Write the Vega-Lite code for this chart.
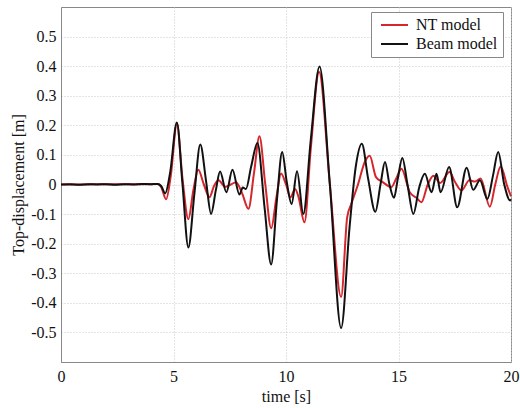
{
  "$schema": "https://vega.github.io/schema/vega-lite/v6.json",
  "width": 450,
  "height": 355,
  "autosize": {"type": "none"},
  "padding": {"left": 61, "top": 7, "right": 9, "bottom": 46},
  "background": "white",
  "config": {
    "view": {"stroke": "#888888", "strokeWidth": 1},
    "font": "Liberation Serif",
    "axis": {"labelFont": "Liberation Serif", "titleFont": "Liberation Serif"},
    "legend": {"labelFont": "Liberation Serif"}
  },
  "data": {
    "values": [
      {"s": "NT model", "t": 0, "v": 0}, {"s": "NT model", "t": 1, "v": 0}, {"s": "NT model", "t": 2, "v": 0.001}, {"s": "NT model", "t": 3, "v": 0.001}, {"s": "NT model", "t": 4, "v": 0.001}, {"s": "NT model", "t": 4.3, "v": 0.002},
      {"s": "NT model", "t": 4.45, "v": -0.008}, {"s": "NT model", "t": 4.67, "v": -0.05}, {"s": "NT model", "t": 4.88, "v": 0.03}, {"s": "NT model", "t": 5.15, "v": 0.205}, {"s": "NT model", "t": 5.4, "v": 0.02}, {"s": "NT model", "t": 5.66, "v": -0.117}, {"s": "NT model", "t": 5.88, "v": -0.02}, {"s": "NT model", "t": 6.1, "v": 0.05}, {"s": "NT model", "t": 6.35, "v": 0.0}, {"s": "NT model", "t": 6.6, "v": -0.043}, {"s": "NT model", "t": 6.8, "v": -0.005}, {"s": "NT model", "t": 7.0, "v": 0.014}, {"s": "NT model", "t": 7.3, "v": -0.008}, {"s": "NT model", "t": 7.55, "v": 0.0}, {"s": "NT model", "t": 7.78, "v": 0.008}, {"s": "NT model", "t": 8.05, "v": -0.03}, {"s": "NT model", "t": 8.33, "v": -0.082}, {"s": "NT model", "t": 8.58, "v": 0.04}, {"s": "NT model", "t": 8.82, "v": 0.163}, {"s": "NT model", "t": 9.08, "v": 0.0}, {"s": "NT model", "t": 9.34, "v": -0.148}, {"s": "NT model", "t": 9.58, "v": -0.04}, {"s": "NT model", "t": 9.78, "v": 0.037}, {"s": "NT model", "t": 10.0, "v": 0.0}, {"s": "NT model", "t": 10.2, "v": -0.043}, {"s": "NT model", "t": 10.4, "v": -0.015}, {"s": "NT model", "t": 10.55, "v": -0.04}, {"s": "NT model", "t": 10.82, "v": -0.128}, {"s": "NT model", "t": 11.1, "v": 0.12}, {"s": "NT model", "t": 11.47, "v": 0.38}, {"s": "NT model", "t": 11.95, "v": 0.0}, {"s": "NT model", "t": 12.45, "v": -0.38}, {"s": "NT model", "t": 12.72, "v": -0.11}, {"s": "NT model", "t": 12.9, "v": -0.066}, {"s": "NT model", "t": 13.2, "v": 0.0}, {"s": "NT model", "t": 13.5, "v": 0.076}, {"s": "NT model", "t": 13.72, "v": 0.097}, {"s": "NT model", "t": 14.0, "v": 0.025}, {"s": "NT model", "t": 14.3, "v": 0.008}, {"s": "NT model", "t": 14.68, "v": -0.009}, {"s": "NT model", "t": 14.9, "v": 0.02}, {"s": "NT model", "t": 15.13, "v": 0.053}, {"s": "NT model", "t": 15.5, "v": -0.026}, {"s": "NT model", "t": 15.8, "v": -0.045}, {"s": "NT model", "t": 16.02, "v": -0.06}, {"s": "NT model", "t": 16.3, "v": 0.0}, {"s": "NT model", "t": 16.55, "v": 0.03}, {"s": "NT model", "t": 16.85, "v": 0.005}, {"s": "NT model", "t": 17.27, "v": 0.042}, {"s": "NT model", "t": 17.5, "v": 0.01}, {"s": "NT model", "t": 17.8, "v": -0.02}, {"s": "NT model", "t": 18.15, "v": 0.014}, {"s": "NT model", "t": 18.4, "v": 0.01}, {"s": "NT model", "t": 18.65, "v": 0.02}, {"s": "NT model", "t": 19.06, "v": -0.075}, {"s": "NT model", "t": 19.3, "v": 0.0}, {"s": "NT model", "t": 19.54, "v": 0.061}, {"s": "NT model", "t": 19.85, "v": -0.01}, {"s": "NT model", "t": 20, "v": -0.04},
      {"s": "Beam model", "t": 0, "v": 0}, {"s": "Beam model", "t": 0.4, "v": 0.001}, {"s": "Beam model", "t": 0.8, "v": -0.001}, {"s": "Beam model", "t": 1.2, "v": 0.001}, {"s": "Beam model", "t": 1.6, "v": 0}, {"s": "Beam model", "t": 2.0, "v": 0.001}, {"s": "Beam model", "t": 2.4, "v": -0.001}, {"s": "Beam model", "t": 2.8, "v": 0.001}, {"s": "Beam model", "t": 3.2, "v": 0}, {"s": "Beam model", "t": 3.6, "v": 0.002}, {"s": "Beam model", "t": 4.0, "v": 0.001}, {"s": "Beam model", "t": 4.3, "v": 0.002},
      {"s": "Beam model", "t": 4.45, "v": -0.005}, {"s": "Beam model", "t": 4.63, "v": -0.03}, {"s": "Beam model", "t": 4.85, "v": 0.04}, {"s": "Beam model", "t": 5.15, "v": 0.21}, {"s": "Beam model", "t": 5.4, "v": 0.0}, {"s": "Beam model", "t": 5.66, "v": -0.213}, {"s": "Beam model", "t": 5.93, "v": -0.03}, {"s": "Beam model", "t": 6.19, "v": 0.135}, {"s": "Beam model", "t": 6.45, "v": 0.01}, {"s": "Beam model", "t": 6.67, "v": -0.1}, {"s": "Beam model", "t": 6.88, "v": -0.02}, {"s": "Beam model", "t": 7.07, "v": 0.044}, {"s": "Beam model", "t": 7.35, "v": -0.026}, {"s": "Beam model", "t": 7.62, "v": 0.05}, {"s": "Beam model", "t": 7.93, "v": -0.034}, {"s": "Beam model", "t": 8.08, "v": -0.01}, {"s": "Beam model", "t": 8.22, "v": -0.015}, {"s": "Beam model", "t": 8.45, "v": 0.06}, {"s": "Beam model", "t": 8.73, "v": 0.14}, {"s": "Beam model", "t": 9.05, "v": -0.08}, {"s": "Beam model", "t": 9.34, "v": -0.27}, {"s": "Beam model", "t": 9.6, "v": -0.05}, {"s": "Beam model", "t": 9.83, "v": 0.11}, {"s": "Beam model", "t": 10.03, "v": 0.01}, {"s": "Beam model", "t": 10.25, "v": -0.066}, {"s": "Beam model", "t": 10.49, "v": 0.045}, {"s": "Beam model", "t": 10.77, "v": -0.1}, {"s": "Beam model", "t": 11.1, "v": 0.15}, {"s": "Beam model", "t": 11.49, "v": 0.399}, {"s": "Beam model", "t": 11.95, "v": 0.0}, {"s": "Beam model", "t": 12.45, "v": -0.485}, {"s": "Beam model", "t": 12.83, "v": -0.14}, {"s": "Beam model", "t": 13.1, "v": 0.06}, {"s": "Beam model", "t": 13.37, "v": 0.138}, {"s": "Beam model", "t": 13.65, "v": 0.02}, {"s": "Beam model", "t": 13.97, "v": -0.092}, {"s": "Beam model", "t": 14.2, "v": 0.0}, {"s": "Beam model", "t": 14.4, "v": 0.076}, {"s": "Beam model", "t": 14.6, "v": 0.0}, {"s": "Beam model", "t": 14.8, "v": -0.045}, {"s": "Beam model", "t": 14.97, "v": 0.02}, {"s": "Beam model", "t": 15.17, "v": 0.09}, {"s": "Beam model", "t": 15.4, "v": 0.0}, {"s": "Beam model", "t": 15.66, "v": -0.1}, {"s": "Beam model", "t": 15.92, "v": -0.01}, {"s": "Beam model", "t": 16.17, "v": 0.036}, {"s": "Beam model", "t": 16.47, "v": -0.026}, {"s": "Beam model", "t": 16.69, "v": 0.036}, {"s": "Beam model", "t": 16.87, "v": -0.026}, {"s": "Beam model", "t": 17.25, "v": 0.059}, {"s": "Beam model", "t": 17.61, "v": -0.077}, {"s": "Beam model", "t": 18.03, "v": 0.057}, {"s": "Beam model", "t": 18.32, "v": -0.018}, {"s": "Beam model", "t": 18.62, "v": 0.014}, {"s": "Beam model", "t": 18.95, "v": -0.049}, {"s": "Beam model", "t": 19.2, "v": 0.03}, {"s": "Beam model", "t": 19.43, "v": 0.11}, {"s": "Beam model", "t": 19.7, "v": 0.0}, {"s": "Beam model", "t": 19.96, "v": -0.054}, {"s": "Beam model", "t": 20, "v": -0.05}
    ]
  },
  "encoding": {
    "x": {
      "field": "t", "type": "quantitative",
      "scale": {"domain": [0, 20], "nice": false, "zero": false},
      "axis": {
        "title": "time [s]", "values": [0, 5, 10, 15, 20],
        "labelFont": "Liberation Serif", "titleFont": "Liberation Serif",
        "labelFontSize": 16, "labelColor": "#111", "labelFlush": false, "labelPadding": 6,
        "titleFontSize": 16, "titleFontWeight": "normal", "titleColor": "#111", "titlePadding": 4,
        "ticks": false, "domainColor": "#888", "grid": true, "gridColor": "#c8c8c8", "gridDash": [1, 2]
      }
    },
    "y": {
      "field": "v", "type": "quantitative",
      "scale": {"domain": [-0.6, 0.6], "nice": false, "zero": false},
      "axis": {
        "title": "Top-displacement [m]", "values": [-0.5, -0.4, -0.3, -0.2, -0.1, 0, 0.1, 0.2, 0.3, 0.4, 0.5],
        "labelExpr": "datum.value == 0 ? '0' : (datum.value < 0 ? '-' : '') + format(abs(datum.value), '.1f')",
        "labelFont": "Liberation Serif", "titleFont": "Liberation Serif",
        "labelFontSize": 16, "labelColor": "#111", "labelPadding": 5,
        "titleFontSize": 16, "titleFontWeight": "normal", "titleColor": "#111", "titlePadding": 4,
        "ticks": false, "domainColor": "#888", "grid": true, "gridColor": "#c8c8c8", "gridDash": [1, 2]
      }
    },
    "color": {
      "field": "s", "type": "nominal",
      "scale": {"domain": ["NT model", "Beam model"], "range": ["#d6262b", "#111111"]},
      "legend": {
        "title": null, "orient": "none", "legendX": 310, "legendY": 5,
        "strokeColor": "#888", "fillColor": "white", "padding": 5, "cornerRadius": 0,
        "symbolType": "M-0.5,0H4", "symbolSize": 144, "symbolStrokeWidth": 2,
        "labelFont": "Liberation Serif", "labelFontSize": 16, "labelColor": "#111", "labelOffset": 24, "rowPadding": 3
      }
    }
  },
  "layer": [
    {"transform": [{"filter": "datum.s == 'NT model'"}], "mark": {"type": "line", "interpolate": "monotone", "strokeWidth": 2}},
    {"transform": [{"filter": "datum.s == 'Beam model'"}], "mark": {"type": "line", "interpolate": "monotone", "strokeWidth": 2}}
  ]
}
